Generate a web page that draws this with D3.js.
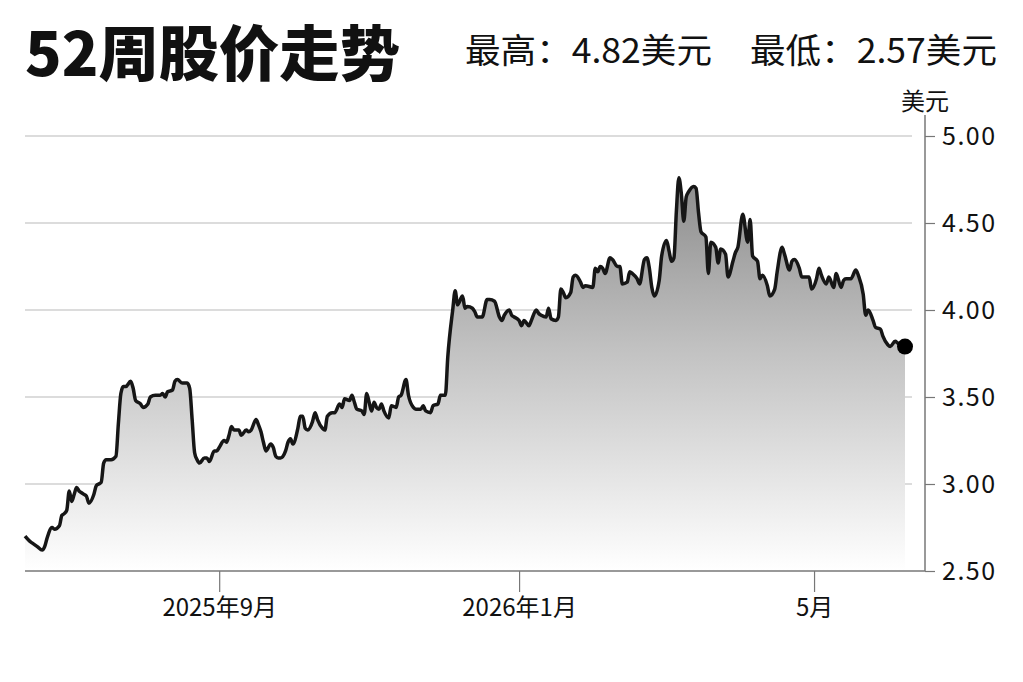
<!DOCTYPE html>
<html><head><meta charset="utf-8">
<script src="https://cdn.jsdelivr.net/npm/d3@7"></script>
<style>body{margin:0;background:#fff}svg{display:block}</style>
</head><body>
<svg id="chart" width="1023" height="682"></svg>
<script>
const dates = ["2025-06-14","2025-06-16","2025-06-17","2025-06-19","2025-06-21","2025-06-22","2025-06-23","2025-06-25","2025-06-26","2025-06-28","2025-06-29","2025-06-30",
"2025-07-01","2025-07-02","2025-07-03","2025-07-04","2025-07-05","2025-07-06","2025-07-07","2025-07-08","2025-07-09","2025-07-10","2025-07-12","2025-07-13","2025-07-14","2025-07-15","2025-07-16","2025-07-17","2025-07-19","2025-07-21","2025-07-22","2025-07-23","2025-07-24","2025-07-25","2025-07-27","2025-07-28","2025-07-29","2025-07-31",
"2025-08-01","2025-08-03","2025-08-04","2025-08-06","2025-08-08","2025-08-09","2025-08-10","2025-08-11","2025-08-13","2025-08-14","2025-08-15","2025-08-17","2025-08-19","2025-08-20","2025-08-21","2025-08-22","2025-08-23","2025-08-24","2025-08-26","2025-08-27","2025-08-28","2025-08-30","2025-08-31",
"2025-09-01","2025-09-03","2025-09-04","2025-09-05","2025-09-06","2025-09-07","2025-09-09","2025-09-10","2025-09-12","2025-09-13","2025-09-14","2025-09-16","2025-09-17","2025-09-18","2025-09-19","2025-09-20","2025-09-22","2025-09-23","2025-09-24","2025-09-25","2025-09-26","2025-09-28","2025-09-29","2025-09-30",
"2025-10-01","2025-10-03","2025-10-04","2025-10-05","2025-10-06","2025-10-07","2025-10-09","2025-10-10","2025-10-11","2025-10-13","2025-10-14","2025-10-15","2025-10-17","2025-10-18","2025-10-20","2025-10-21","2025-10-22","2025-10-24","2025-10-25","2025-10-26","2025-10-27","2025-10-29","2025-10-30","2025-10-31",
"2025-11-01","2025-11-02","2025-11-03","2025-11-04","2025-11-05","2025-11-06","2025-11-07","2025-11-09","2025-11-10","2025-11-12","2025-11-13","2025-11-14","2025-11-16","2025-11-17","2025-11-19","2025-11-20","2025-11-22","2025-11-23","2025-11-24","2025-11-26","2025-11-27","2025-11-29","2025-11-30",
"2025-12-02","2025-12-03","2025-12-05","2025-12-06","2025-12-07","2025-12-09","2025-12-10","2025-12-11","2025-12-13","2025-12-14","2025-12-15","2025-12-17","2025-12-19","2025-12-20","2025-12-22","2025-12-24","2025-12-25","2025-12-26","2025-12-28","2025-12-29","2025-12-30",
"2026-01-01","2026-01-02","2026-01-03","2026-01-05","2026-01-06","2026-01-08","2026-01-09","2026-01-10","2026-01-12","2026-01-13","2026-01-14","2026-01-16","2026-01-17","2026-01-18","2026-01-19","2026-01-20","2026-01-22","2026-01-23","2026-01-24","2026-01-26","2026-01-27","2026-01-28","2026-01-31",
"2026-02-01","2026-02-02","2026-02-03","2026-02-04","2026-02-05","2026-02-07","2026-02-08","2026-02-10","2026-02-11","2026-02-12","2026-02-14","2026-02-15","2026-02-16","2026-02-18","2026-02-19","2026-02-21","2026-02-22","2026-02-23","2026-02-24","2026-02-25","2026-02-27","2026-02-28",
"2026-03-02","2026-03-03","2026-03-04","2026-03-05","2026-03-06","2026-03-07","2026-03-08","2026-03-09","2026-03-10","2026-03-11","2026-03-13","2026-03-14","2026-03-15","2026-03-16","2026-03-18","2026-03-19","2026-03-20","2026-03-22","2026-03-23","2026-03-24","2026-03-26","2026-03-27","2026-03-29","2026-03-30","2026-03-31",
"2026-04-02","2026-04-04","2026-04-05","2026-04-06","2026-04-08","2026-04-09","2026-04-10","2026-04-12","2026-04-13","2026-04-15","2026-04-16","2026-04-18","2026-04-19","2026-04-21","2026-04-22","2026-04-23","2026-04-25","2026-04-26","2026-04-27","2026-04-29","2026-04-30",
"2026-05-02","2026-05-03","2026-05-04","2026-05-06","2026-05-07","2026-05-09","2026-05-10","2026-05-12","2026-05-13","2026-05-14","2026-05-16","2026-05-18","2026-05-19","2026-05-21","2026-05-22","2026-05-23","2026-05-25","2026-05-26","2026-05-28","2026-05-29","2026-05-31",
"2026-06-01","2026-06-03","2026-06-04","2026-06-07"];
const prices = [2.70,2.67,2.66,2.64,2.62,2.64,2.69,2.75,2.74,2.76,2.82,2.83,
2.85,2.96,2.90,2.94,2.98,2.96,2.95,2.94,2.93,2.89,2.94,2.99,3.00,3.01,3.12,3.14,3.14,3.16,3.35,3.52,3.56,3.56,3.59,3.55,3.48,3.46,
3.44,3.46,3.50,3.51,3.51,3.52,3.50,3.53,3.54,3.59,3.60,3.58,3.58,3.55,3.37,3.18,3.14,3.12,3.15,3.15,3.13,3.19,3.19,
3.21,3.25,3.24,3.28,3.33,3.31,3.31,3.28,3.31,3.30,3.31,3.37,3.34,3.30,3.24,3.19,3.23,3.21,3.16,3.15,3.15,3.19,3.24,3.26,
3.23,3.32,3.39,3.39,3.32,3.31,3.36,3.41,3.37,3.32,3.31,3.39,3.41,3.41,3.46,3.44,3.49,3.48,3.51,3.47,3.43,3.42,3.40,3.52,
3.47,3.42,3.47,3.44,3.43,3.46,3.42,3.38,3.45,3.44,3.50,3.51,3.60,3.51,3.44,3.43,3.43,3.45,3.42,3.41,3.45,3.46,3.51,
3.51,3.73,4.00,4.11,4.03,4.08,4.01,4.02,4.01,3.99,3.96,3.96,4.06,4.06,4.05,3.96,3.94,3.97,4.00,3.97,3.96,
3.94,3.91,3.94,3.91,3.94,4.00,3.98,3.97,3.96,4.01,3.95,3.94,3.96,4.12,4.10,4.07,4.10,4.19,4.20,4.16,4.13,4.14,4.13,
4.24,4.22,4.25,4.24,4.21,4.30,4.29,4.25,4.25,4.15,4.16,4.22,4.21,4.18,4.15,4.29,4.30,4.24,4.13,4.08,4.17,4.31,
4.40,4.34,4.28,4.30,4.57,4.76,4.67,4.51,4.65,4.68,4.71,4.70,4.56,4.45,4.42,4.21,4.39,4.36,4.27,4.35,4.32,4.19,4.28,4.33,4.36,
4.55,4.39,4.52,4.31,4.28,4.18,4.20,4.14,4.08,4.12,4.22,4.36,4.32,4.23,4.28,4.29,4.24,4.19,4.19,4.19,4.12,
4.18,4.24,4.20,4.15,4.19,4.13,4.21,4.13,4.17,4.18,4.18,4.23,4.20,4.09,3.97,4.00,3.94,3.90,3.89,3.85,3.80,
3.79,3.82,3.81,3.79];
const yTicks = [2.5, 3.0, 3.5, 4.0, 4.5, 5.0];
const xTickDates = ["2025-09-01", "2026-01-01", "2026-05-01"];
const xTickLabels = ["2025年9月", "2026年1月", "5月"];
const titleText = "52周股价走势";
const highText = "最高：4.82美元";
const lowText = "最低：2.57美元";
const unitText = "美元";

const parse = d3.timeParse("%Y-%m-%d");
const data = dates.map((d, i) => ({date: parse(d), value: prices[i]}));
const FONT = "'Noto Sans CJK SC','Noto Sans',sans-serif";

const svg = d3.select("#chart");
const x = d3.scaleTime().domain([parse("2025-06-14"), parse("2026-06-07")]).range([25, 905]);
const y = d3.scaleLinear().domain([2.5, 5]).range([571, 136]);
const axisX = 925;

const defs = svg.append("defs");
const grad = defs.append("linearGradient").attr("id", "fillGrad")
  .attr("gradientUnits", "userSpaceOnUse")
  .attr("x1", 0).attr("x2", 0).attr("y1", y(4.8)).attr("y2", y(2.5));
grad.append("stop").attr("offset", 0).attr("stop-color", "#8a8a8a");
grad.append("stop").attr("offset", 0.45).attr("stop-color", "#c2c2c2");
grad.append("stop").attr("offset", 1).attr("stop-color", "#ffffff");

// grid
svg.append("g").selectAll("line").data(yTicks.filter(t => t > 2.5)).join("line")
  .attr("x1", 25).attr("x2", 912)
  .attr("y1", d => y(d)).attr("y2", d => y(d))
  .attr("stroke", "#dcdcdc").attr("stroke-width", 2);

// area
const area = d3.area().x(d => x(d.date)).y0(y(2.5)).y1(d => y(d.value)).curve(d3.curveMonotoneX);
svg.append("path").datum(data).attr("d", area).attr("fill", "url(#fillGrad)");

// bottom axis
const xAxis = d3.axisBottom(x).tickValues(xTickDates.map(parse))
  .tickFormat((d, i) => xTickLabels[i]).tickSize(21).tickPadding(7);
const gx = svg.append("g").attr("transform", `translate(0,${y(2.5)})`).call(xAxis);
gx.select(".domain").remove();
gx.selectAll(".tick line").attr("stroke", "#777").attr("stroke-width", 1.2);
gx.selectAll(".tick text").attr("font-family", FONT).attr("font-size", 24).attr("fill", "#111");
svg.append("line").attr("x1", 25).attr("x2", axisX).attr("y1", y(2.5)).attr("y2", y(2.5))
  .attr("stroke", "#777").attr("stroke-width", 1.5);

// right axis
const yAxis = d3.axisRight(y).tickValues(yTicks).tickFormat(d3.format(".2f")).tickSize(10).tickPadding(7);
const gy = svg.append("g").attr("transform", `translate(${axisX},0)`).call(yAxis);
gy.select(".domain").remove();
gy.selectAll(".tick line").attr("stroke", "#777").attr("stroke-width", 1.2);
gy.selectAll(".tick text").attr("font-family", FONT).attr("font-size", 25)
  .attr("letter-spacing", 1.5).attr("fill", "#111");
svg.append("line").attr("x1", axisX).attr("x2", axisX).attr("y1", 115).attr("y2", y(2.5))
  .attr("stroke", "#777").attr("stroke-width", 1.5);

// line
const line = d3.line().x(d => x(d.date)).y(d => y(d.value)).curve(d3.curveMonotoneX);
svg.append("path").datum(data).attr("d", line).attr("fill", "none")
  .attr("stroke", "#161616").attr("stroke-width", 3.5).attr("stroke-linejoin", "round");

// end dot
const last = data[data.length - 1];
svg.append("circle").attr("cx", x(last.date)).attr("cy", y(last.value)).attr("r", 8).attr("fill", "#000");

// texts
svg.append("text").attr("x", 25).attr("y", 76).text(titleText)
  .attr("font-family", FONT).attr("font-weight", 900).attr("font-size", 60)
  .attr("textLength", 375).attr("lengthAdjust", "spacingAndGlyphs").attr("fill", "#111");
svg.append("text").attr("x", 465).attr("y", 63).text(highText)
  .attr("font-family", FONT).attr("font-size", 34)
  .attr("textLength", 247).attr("lengthAdjust", "spacingAndGlyphs").attr("fill", "#111");
svg.append("text").attr("x", 750).attr("y", 63).text(lowText)
  .attr("font-family", FONT).attr("font-size", 34)
  .attr("textLength", 247).attr("lengthAdjust", "spacingAndGlyphs").attr("fill", "#111");
svg.append("text").attr("x", 925).attr("y", 110).attr("text-anchor", "middle").text(unitText)
  .attr("font-family", FONT).attr("font-size", 24).attr("fill", "#111");
</script>
</body></html>
